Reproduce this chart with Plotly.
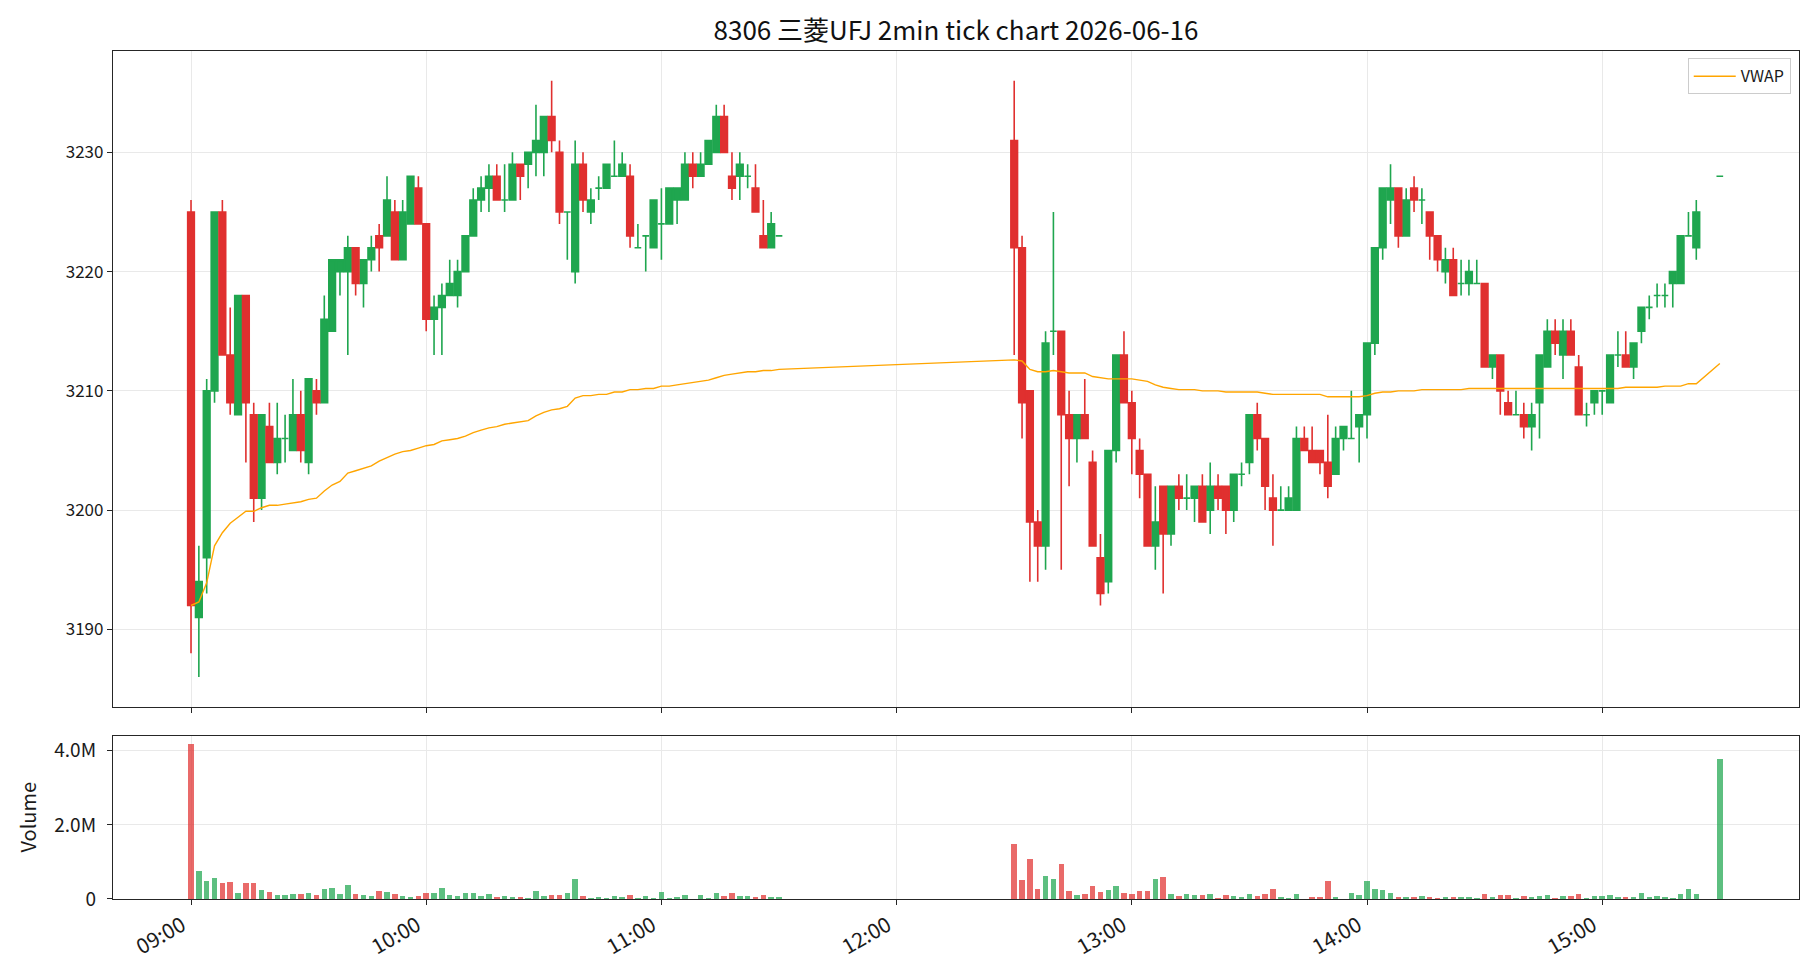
import pandas as pd
import plotly.graph_objects as go

TRADE_DATE = "2026-06-16"
TITLE = "8306 三菱UFJ 2min tick chart 2026-06-16"

# ---- morning session (09:00 .. 11:30, 2-min bars) ----
am_open = [3225, 3191, 3196, 3210, 3225, 3213, 3208, 3218, 3208, 3201,
           3207, 3204, 3206, 3205, 3208, 3204, 3210, 3209, 3215, 3220,
           3220, 3222, 3219, 3221, 3223, 3223, 3225, 3221, 3224, 3227,
           3224, 3216, 3217, 3218, 3218, 3220, 3223, 3226, 3227, 3228,
           3226, 3226, 3229, 3229, 3230, 3230, 3233, 3230, 3225, 3220,
           3229, 3225, 3227, 3227, 3228, 3228, 3228, 3222, 3223, 3222,
           3224, 3224, 3226, 3226, 3229, 3228, 3229, 3230, 3233, 3228,
           3228, 3228, 3227, 3223, 3222, 3223]
am_high = [3226, 3197, 3211, 3225, 3226, 3217, 3218, 3218, 3209, 3208,
           3209, 3209, 3208, 3211, 3210, 3211, 3211, 3218, 3221, 3221,
           3223, 3222, 3221, 3223, 3224, 3228, 3226, 3226, 3228, 3228,
           3224, 3218, 3219, 3221, 3221, 3223, 3227, 3228, 3229, 3229,
           3229, 3230, 3229, 3230, 3234, 3233, 3236, 3231, 3225, 3231,
           3230, 3227, 3228, 3229, 3231, 3230, 3229, 3224, 3223, 3226,
           3227, 3227, 3227, 3230, 3230, 3230, 3231, 3234, 3234, 3230,
           3230, 3229, 3229, 3226, 3225, 3223]
am_low = [3188, 3186, 3193, 3209, 3213, 3208, 3208, 3204, 3199, 3200,
          3204, 3203, 3204, 3205, 3204, 3203, 3208, 3209, 3215, 3218,
          3213, 3218, 3217, 3220, 3220, 3223, 3221, 3221, 3224, 3224,
          3215, 3213, 3213, 3218, 3217, 3220, 3223, 3225, 3225, 3226,
          3225, 3226, 3226, 3227, 3228, 3228, 3230, 3224, 3221, 3219,
          3225, 3224, 3226, 3227, 3228, 3228, 3222, 3222, 3220, 3222,
          3221, 3224, 3224, 3226, 3227, 3228, 3229, 3230, 3230, 3226,
          3226, 3227, 3225, 3222, 3222, 3223]
am_close = [3192, 3194, 3210, 3225, 3213, 3209, 3218, 3209, 3201, 3208,
            3204, 3206, 3206, 3208, 3205, 3211, 3209, 3216, 3221, 3221,
            3222, 3219, 3221, 3222, 3222, 3226, 3221, 3225, 3228, 3224,
            3216, 3217, 3218, 3219, 3220, 3223, 3226, 3227, 3228, 3226,
            3226, 3229, 3228, 3230, 3231, 3233, 3231, 3225, 3225, 3229,
            3226, 3226, 3227, 3229, 3228, 3229, 3223, 3222, 3223, 3226,
            3224, 3227, 3227, 3229, 3228, 3229, 3231, 3233, 3230, 3227,
            3229, 3228, 3225, 3222, 3224, 3223]
am_volume_m = [4.20, 0.76, 0.49, 0.57, 0.44, 0.47, 0.17, 0.44, 0.44, 0.25,
               0.20, 0.12, 0.12, 0.14, 0.14, 0.17, 0.12, 0.28, 0.30, 0.14,
               0.39, 0.14, 0.12, 0.09, 0.22, 0.20, 0.14, 0.09, 0.06, 0.09,
               0.17, 0.17, 0.30, 0.12, 0.09, 0.17, 0.17, 0.09, 0.14, 0.06,
               0.09, 0.06, 0.06, 0.04, 0.22, 0.09, 0.12, 0.12, 0.17, 0.55,
               0.09, 0.04, 0.06, 0.04, 0.09, 0.06, 0.12, 0.04, 0.09, 0.04,
               0.20, 0.04, 0.06, 0.12, 0.01, 0.12, 0.04, 0.17, 0.09, 0.17,
               0.09, 0.09, 0.06, 0.12, 0.06, 0.06]
am_vwap = [3192.0, 3192.3, 3193.9, 3197.0, 3198.1, 3198.9, 3199.4, 3199.9, 3199.9, 3200.2,
           3200.4, 3200.4, 3200.5, 3200.6, 3200.7, 3200.9, 3201.0, 3201.6, 3202.1, 3202.4,
           3203.1, 3203.3, 3203.5, 3203.7, 3204.1, 3204.4, 3204.7, 3204.9, 3205.0, 3205.2,
           3205.4, 3205.5, 3205.8, 3205.9, 3206.0, 3206.2, 3206.5, 3206.7, 3206.9, 3207.0,
           3207.2, 3207.3, 3207.4, 3207.5, 3207.9, 3208.2, 3208.4, 3208.5, 3208.7, 3209.4,
           3209.6, 3209.6, 3209.7, 3209.7, 3209.9, 3209.9, 3210.1, 3210.1, 3210.2, 3210.2,
           3210.4, 3210.4, 3210.5, 3210.6, 3210.7, 3210.8, 3210.9, 3211.1, 3211.3, 3211.4,
           3211.5, 3211.6, 3211.6, 3211.7, 3211.7, 3211.8]

# ---- afternoon session (12:30 .. 15:24, 2-min bars, then 15:30 close) ----
pm_open = [3231, 3222, 3210, 3199, 3197, 3215, 3215, 3208, 3206, 3208,
           3204, 3196, 3194, 3205, 3213, 3209, 3205, 3203, 3197, 3202,
           3198, 3202, 3201, 3201, 3202, 3200, 3202, 3202, 3200, 3203,
           3204, 3208, 3206, 3201, 3200, 3200, 3200, 3206, 3205, 3205,
           3204, 3203, 3206, 3206, 3207, 3208, 3214, 3222, 3226, 3227,
           3223, 3227, 3226, 3225, 3223, 3220, 3221, 3219, 3219, 3219,
           3219, 3212, 3213, 3209, 3208, 3208, 3207, 3209, 3212, 3215,
           3213, 3215, 3212, 3208, 3209, 3210, 3209, 3213, 3213, 3212,
           3215, 3217, 3218, 3218, 3219, 3219, 3223, 3222, 3228]
pm_high = [3236, 3223, 3210, 3200, 3215, 3225, 3215, 3210, 3208, 3211,
           3205, 3198, 3205, 3213, 3215, 3210, 3206, 3203, 3202, 3202,
           3202, 3203, 3203, 3202, 3203, 3204, 3203, 3202, 3203, 3204,
           3208, 3209, 3206, 3203, 3202, 3202, 3207, 3207, 3207, 3205,
           3208, 3207, 3207, 3210, 3208, 3214, 3222, 3227, 3229, 3227,
           3227, 3228, 3227, 3225, 3223, 3222, 3222, 3221, 3221, 3221,
           3219, 3213, 3213, 3210, 3210, 3209, 3209, 3213, 3216, 3216,
           3216, 3216, 3213, 3209, 3210, 3210, 3213, 3215, 3215, 3214,
           3217, 3218, 3219, 3219, 3220, 3223, 3225, 3226, 3228]
pm_low = [3213, 3206, 3194, 3194, 3195, 3213, 3195, 3202, 3204, 3206,
          3197, 3192, 3193, 3204, 3209, 3203, 3201, 3197, 3195, 3193,
          3197, 3200, 3200, 3199, 3199, 3198, 3200, 3198, 3199, 3202,
          3203, 3205, 3200, 3197, 3200, 3200, 3200, 3205, 3204, 3203,
          3201, 3203, 3205, 3206, 3204, 3206, 3213, 3221, 3224, 3222,
          3223, 3225, 3224, 3221, 3220, 3219, 3218, 3218, 3218, 3219,
          3212, 3211, 3208, 3208, 3208, 3206, 3205, 3206, 3212, 3213,
          3211, 3213, 3208, 3207, 3208, 3208, 3209, 3212, 3212, 3211,
          3214, 3216, 3217, 3217, 3217, 3219, 3223, 3221, 3228]
pm_close = [3222, 3209, 3199, 3197, 3214, 3215, 3208, 3206, 3208, 3206,
            3197, 3193, 3205, 3213, 3209, 3206, 3203, 3197, 3199, 3198,
            3202, 3201, 3201, 3202, 3199, 3202, 3201, 3200, 3203, 3203,
            3208, 3206, 3202, 3200, 3200, 3201, 3206, 3205, 3204, 3204,
            3202, 3206, 3207, 3206, 3208, 3214, 3222, 3227, 3227, 3223,
            3226, 3226, 3226, 3223, 3221, 3221, 3218, 3219, 3220, 3219,
            3212, 3213, 3210, 3208, 3208, 3207, 3208, 3213, 3215, 3214,
            3215, 3213, 3208, 3208, 3210, 3210, 3213, 3213, 3212, 3214,
            3217, 3217, 3218, 3218, 3220, 3223, 3223, 3225, 3228]
pm_volume_m = [1.49, 0.52, 1.09, 0.28, 0.63, 0.55, 0.95, 0.22, 0.12, 0.14,
               0.36, 0.20, 0.25, 0.36, 0.17, 0.14, 0.22, 0.22, 0.55, 0.60,
               0.14, 0.09, 0.14, 0.12, 0.12, 0.14, 0.04, 0.12, 0.09, 0.06,
               0.14, 0.09, 0.14, 0.28, 0.06, 0.04, 0.14, 0.01, 0.06, 0.06,
               0.49, 0.06, 0.01, 0.17, 0.12, 0.49, 0.28, 0.25, 0.17, 0.06,
               0.06, 0.06, 0.09, 0.06, 0.04, 0.06, 0.06, 0.06, 0.06, 0.04,
               0.14, 0.06, 0.12, 0.12, 0.04, 0.09, 0.06, 0.09, 0.12, 0.04,
               0.09, 0.09, 0.14, 0.04, 0.09, 0.09, 0.12, 0.06, 0.06, 0.06,
               0.17, 0.06, 0.09, 0.06, 0.04, 0.14, 0.28, 0.14, 3.78]
pm_vwap = [3212.6, 3212.5, 3211.8, 3211.6, 3211.6, 3211.7, 3211.6, 3211.5, 3211.5, 3211.5,
           3211.2, 3211.1, 3211.0, 3211.0, 3211.0, 3211.0, 3210.9, 3210.8, 3210.5, 3210.3,
           3210.2, 3210.1, 3210.1, 3210.1, 3210.0, 3210.0, 3210.0, 3209.9, 3209.9, 3209.9,
           3209.9, 3209.9, 3209.8, 3209.7, 3209.7, 3209.7, 3209.7, 3209.7, 3209.7, 3209.7,
           3209.5, 3209.5, 3209.5, 3209.5, 3209.5, 3209.6, 3209.8, 3209.9, 3209.9, 3210.0,
           3210.0, 3210.0, 3210.1, 3210.1, 3210.1, 3210.1, 3210.1, 3210.1, 3210.2, 3210.2,
           3210.2, 3210.2, 3210.2, 3210.2, 3210.2, 3210.2, 3210.2, 3210.2, 3210.2, 3210.2,
           3210.2, 3210.2, 3210.2, 3210.2, 3210.2, 3210.2, 3210.2, 3210.2, 3210.3, 3210.3,
           3210.3, 3210.3, 3210.3, 3210.4, 3210.4, 3210.4, 3210.6, 3210.6, 3212.3]

# ---- time stamps ----
am_times = list(pd.date_range(f"{TRADE_DATE} 09:00", f"{TRADE_DATE} 11:30", freq="2min"))
pm_times = list(pd.date_range(f"{TRADE_DATE} 12:30", f"{TRADE_DATE} 15:24", freq="2min")) + \
    [pd.Timestamp(f"{TRADE_DATE} 15:30")]

times = am_times + pm_times
opens = am_open + pm_open
highs = am_high + pm_high
lows = am_low + pm_low
closes = am_close + pm_close
volumes = [v * 1e6 for v in am_volume_m + pm_volume_m]
vwap = am_vwap + pm_vwap

n = len(times)
for arr in (opens, highs, lows, closes, volumes, vwap):
    assert len(arr) == n, (len(arr), n)

UP = "#1fa64f"
DOWN = "#e0302f"
UP_VOL = "rgba(31,166,79,0.72)"
DOWN_VOL = "rgba(224,48,47,0.72)"
FONT = "Noto Sans CJK JP, Noto Sans, sans-serif"
GRID = "#e9e9e9"
SPINE = "#262626"
TXT = "#1a1a1a"

up_idx = [i for i in range(n) if closes[i] >= opens[i]]
dn_idx = [i for i in range(n) if closes[i] < opens[i]]


def pick(arr, idx):
    return [arr[i] for i in idx]


fig = go.Figure()
for idx, col in ((up_idx, UP), (dn_idx, DOWN)):
    fig.add_trace(go.Candlestick(
        x=pick(times, idx), open=pick(opens, idx), high=pick(highs, idx),
        low=pick(lows, idx), close=pick(closes, idx),
        increasing=dict(line=dict(color=col, width=1.6), fillcolor=col),
        decreasing=dict(line=dict(color=col, width=1.6), fillcolor=col),
        whiskerwidth=0, showlegend=False, hoverinfo="skip",
        xaxis="x", yaxis="y",
    ))

fig.add_trace(go.Scatter(
    x=times, y=vwap, mode="lines", name="VWAP",
    line=dict(color="#ffa500", width=1.4),
    xaxis="x", yaxis="y",
))

vol_colors = [UP_VOL if closes[i] >= opens[i] else DOWN_VOL for i in range(n)]
fig.add_trace(go.Bar(
    x=times, y=volumes, marker=dict(color=vol_colors, line=dict(width=0)),
    width=84000, showlegend=False, hoverinfo="skip",
    xaxis="x2", yaxis="y2",
))

hour_ticks = [pd.Timestamp(f"{TRADE_DATE} {h:02d}:00") for h in range(9, 16)]
x_range = [f"{TRADE_DATE} 08:40:06", f"{TRADE_DATE} 15:50:12"]


def axis_common(fsize):
    return dict(
        showline=True, linecolor=SPINE, linewidth=1.2, mirror=True,
        ticks="outside", ticklen=5, tickwidth=1.2, tickcolor=SPINE,
        showgrid=True, gridcolor=GRID, gridwidth=1, zeroline=False,
        tickfont=dict(family=FONT, size=fsize, color=TXT),
    )


fig.update_layout(
    width=1820, height=980,
    margin=dict(l=113, r=21, t=51, b=81),
    paper_bgcolor="white", plot_bgcolor="white",
    font=dict(family=FONT, size=16, color=TXT),
    boxgap=0.15, boxgroupgap=0,
    title=dict(text=TITLE, x=0.5, xref="paper", xanchor="center",
               y=1 - 31 / 980, yref="container", yanchor="middle",
               font=dict(family=FONT, size=26, color="#111111")),
    xaxis=dict(domain=[0, 1], anchor="y", type="date", range=x_range,
               tickvals=hour_ticks, showticklabels=False,
               rangeslider=dict(visible=False), **axis_common(16)),
    yaxis=dict(domain=[0.2266, 1], anchor="x", range=[3183.5, 3238.5],
               tickvals=[3190, 3200, 3210, 3220, 3230], **axis_common(17)),
    xaxis2=dict(domain=[0, 1], anchor="y2", type="date", range=x_range,
                matches="x", tickvals=hour_ticks, tickformat="%H:%M",
                tickangle=-30, showticklabels=True, ticklabelshift=-9,
                rangeslider=dict(visible=False), **axis_common(21)),
    yaxis2=dict(domain=[0, 0.1928], anchor="x2", range=[0, 4.41e6],
                tickvals=[0, 2e6, 4e6], ticktext=["0", "2.0M", "4.0M"],
                ticklabelstandoff=7,
                title=dict(text="Volume", standoff=12,
                           font=dict(family=FONT, size=20, color=TXT)),
                **axis_common(19)),
    legend=dict(x=0.9951, xanchor="right", y=0.9914, yanchor="top",
                bgcolor="white", bordercolor="#cccccc", borderwidth=1,
                font=dict(family=FONT, size=16, color=TXT),
                itemwidth=42, tracegroupgap=0),
    showlegend=True,
    bargap=0,
)

fig.write_html("out.html")
